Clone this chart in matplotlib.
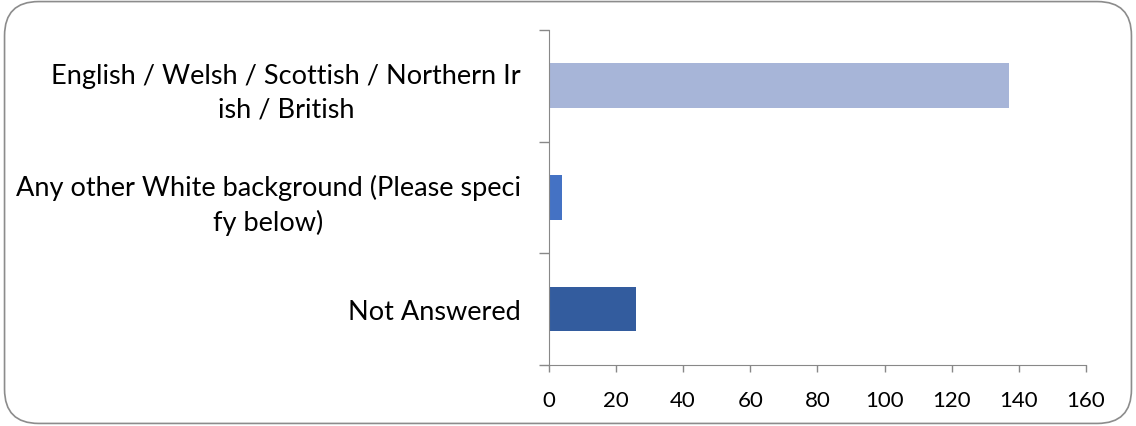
import matplotlib
matplotlib.use('Agg')
from matplotlib import pyplot as plt
from matplotlib.patches import FancyBboxPatch

# data
categories = ['English / Welsh / Scottish / Northern Ir\nish / British',
              'Any other White background (Please speci\nfy below)',
              'Not Answered']
counts = [137, 4, 26]
bar_colors = ['#A7B5D8', '#4472C4', '#335C9E']
xticks = [0, 20, 40, 60, 80, 100, 120, 140, 160]

plt.rcParams['font.family'] = ['Lato', 'DejaVu Sans']

fig = plt.figure(figsize=(11.36, 4.27), dpi=100)
ax = fig.add_axes([0.4831, 0.1429, 0.4729, 0.7845])

ypos = list(range(len(categories)))
ax.barh(ypos, counts, height=0.4, color=bar_colors)
ax.set_ylim(len(categories) - 0.5, -0.5)
ax.set_xlim(0, 160)

ax.set_xticks(xticks)
ax.set_xticklabels([str(t) for t in xticks], fontsize=16)
ax.set_yticks(ypos)
ax.set_yticklabels(categories, fontsize=19.5, multialignment='center',
                   linespacing=1.4)
ax.set_yticks([i - 0.5 for i in range(len(categories) + 1)], minor=True)

ax.tick_params(axis='y', which='major', length=0, pad=20)
ax.tick_params(axis='y', which='minor', length=7, width=1, color='#888888')
ax.tick_params(axis='x', length=5, width=1, color='#888888', pad=13)

for side in ['top', 'right']:
    ax.spines[side].set_visible(False)
for side in ['left', 'bottom']:
    ax.spines[side].set_color('#888888')

# rounded chart frame
frame = FancyBboxPatch((0.004, 0.006), 0.992, 0.988,
                       boxstyle='round,pad=0,rounding_size=0.03',
                       transform=fig.transFigure, facecolor='none',
                       edgecolor='#8c8c8c', linewidth=1.2,
                       mutation_aspect=1136 / 427)
fig.patches.append(frame)

fig.savefig('out.png', dpi=100)
